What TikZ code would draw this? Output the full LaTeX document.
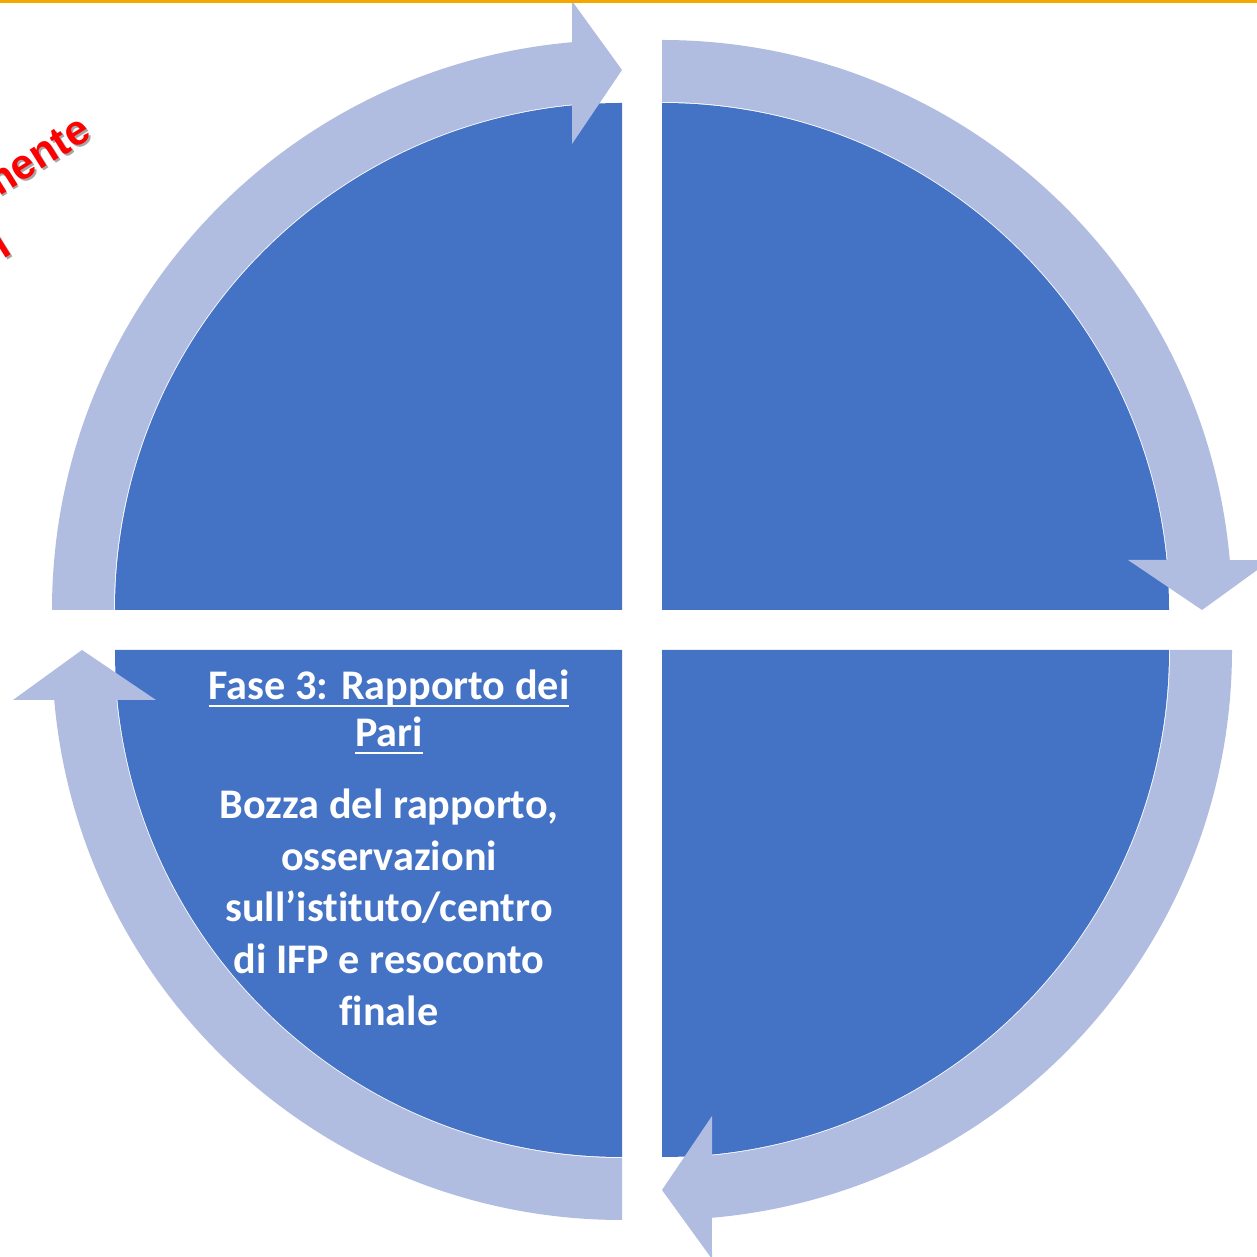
\documentclass[tikz,border=0pt]{standalone}
\usepackage{fontspec}
\setmainfont{Carlito}[Ligatures=NoCommon]
\newfontfamily\redfont{Liberation Sans}
\definecolor{quadblue}{RGB}{68,114,196}
\definecolor{bandblue}{RGB}{176,189,224}
\definecolor{topline}{RGB}{245,166,0}
\newcommand\ulfase[1]{\setbox0\hbox{#1}\rlap{\rule[-2.2pt]{\wd0}{0.6pt}}\box0}

\begin{document}
\begin{tikzpicture}[x=0.01cm,y=0.01cm,
    quad/.style={fill=quadblue},
    band/.style={fill=bandblue},
    phasetext/.style={text=white,font=\bfseries\fontsize{12}{14.7}\selectfont,align=center,inner sep=0pt},
    redtext/.style={font=\redfont\bfseries\fontsize{12}{15}\selectfont,inner sep=0pt,rotate=32}]
  \useasboundingbox (0,0) rectangle (1257,1257);
  % quarters
  \foreach \cx/\cy/\a in {622/647/180, 662/647/90, 662/607/0, 622/607/-90} {
    \fill[quad] (\cx,\cy) -- ++(\a:507) arc[start angle=\a,end angle=\a-90,radius=507] -- cycle;
  }
  % circular arrows
  \foreach \cx/\cy/\a in {622/647/180, 662/647/90, 662/607/0, 622/607/-90} {
    \fill[band,shift={(\cx,\cy)}] (\a:570) arc[start angle=\a,end angle=\a-84.97,radius=570]
      -- ([shift={(\a:50)}]\a-90:609) -- (\a-90:540) -- ([shift={(\a:50)}]\a-90:466)
      -- (\a-84.35:508) arc[start angle=\a-84.35,end angle=\a,radius=508] -- cycle;
  }
  \fill[topline] (0,1254) rectangle (1257,1257);
  % red text, cut by the page edge
  \node[redtext,anchor=base east,text=black!35] (menteshadow) at (96,1118) {mente};
  \node[redtext,anchor=base east,text=red] (mente) at (94,1120) {mente};
  \node[redtext,anchor=base east,text=black!35] (lshadow) at (16,1002) {l};
  \node[redtext,anchor=base east,text=red] (l) at (14,1004) {l};
  % phase 3
  \node[phasetext,anchor=north] (title) at (389,588) {\ulfase{Fase 3: Rapporto dei}\\[-1.4pt]\ulfase{Pari}};
  \node[phasetext,anchor=north] (body) at (389,469) {Bozza del rapporto,\\osservazioni\\sull’istituto/centro\\di IFP e resoconto\\finale};
\end{tikzpicture}
\end{document}
